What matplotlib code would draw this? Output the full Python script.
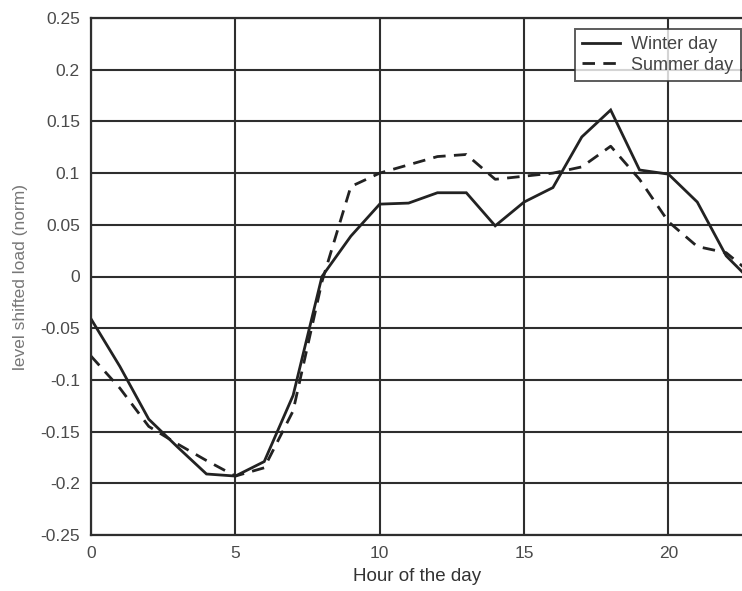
import matplotlib
matplotlib.use("Agg")
import matplotlib.pyplot as plt

hours = list(range(24))
winter_day = [-0.041, -0.087, -0.138, -0.165, -0.191, -0.193, -0.179, -0.115,
              0.0, 0.039, 0.07, 0.071, 0.081, 0.081, 0.049, 0.072,
              0.086, 0.135, 0.161, 0.103, 0.099, 0.072, 0.02, -0.008]
summer_day = [-0.077, -0.108, -0.145, -0.162, -0.178, -0.193, -0.185, -0.13,
              -0.005, 0.087, 0.1, 0.108, 0.116, 0.118, 0.094, 0.097,
              0.1, 0.106, 0.126, 0.094, 0.053, 0.029, 0.023, 0.0]
series_labels = ["Winter day", "Summer day"]
x_ticks = [0, 5, 10, 15, 20]
y_ticks = [-0.25, -0.2, -0.15, -0.1, -0.05, 0, 0.05, 0.1, 0.15, 0.2, 0.25]
y_tick_labels = ["-0.25", "-0.2", "-0.15", "-0.1", "-0.05", "0",
                 "0.05", "0.1", "0.15", "0.2", "0.25"]

plt.rcParams["font.family"] = ["Liberation Sans", "DejaVu Sans"]
text_col = "#4a4a4a"
line_col = "#222222"

fig = plt.figure(figsize=(7.42, 5.91), dpi=100)
ax = fig.add_axes([91 / 742, 1 - 535 / 591, 1 - 91 / 742 + 0.002, (535 - 18) / 591])

ax.plot(hours, winter_day, color=line_col, lw=2.0, label=series_labels[0],
        solid_joinstyle="miter")
ax.plot(hours, summer_day, color=line_col, lw=2.0, ls=(0, (4.5, 3)),
        label=series_labels[1])

ax.set_xlim(0, 22.6)
ax.set_ylim(-0.25, 0.25)
ax.set_xticks(x_ticks)
ax.set_yticks(y_ticks)
ax.set_yticklabels(y_tick_labels)
ax.grid(True, color="#2e2e2e", lw=1.5, ls="-")
ax.set_axisbelow(True)
ax.tick_params(length=0, labelsize=12.5, colors=text_col, pad=8)

for side in ["left", "bottom", "top"]:
    ax.spines[side].set_color("#2e2e2e")
    ax.spines[side].set_linewidth(1.6)
ax.spines["right"].set_visible(False)

ax.set_xlabel("Hour of the day", fontsize=13.5, color="#333333", labelpad=5)
ax.set_ylabel("level shifted load (norm)", fontsize=12.5, color="#777777", labelpad=9)

leg = ax.legend(loc="upper right", bbox_to_anchor=(1.0, 0.984), fontsize=13,
                frameon=True, fancybox=False, edgecolor="#333333",
                handlelength=2.1, borderpad=0.4, labelspacing=0.2,
                handletextpad=0.65, borderaxespad=0.15)
leg.get_frame().set_linewidth(1.4)
for t in leg.get_texts():
    t.set_color("#444444")

fig.savefig("out.png", dpi=100, facecolor="white")
